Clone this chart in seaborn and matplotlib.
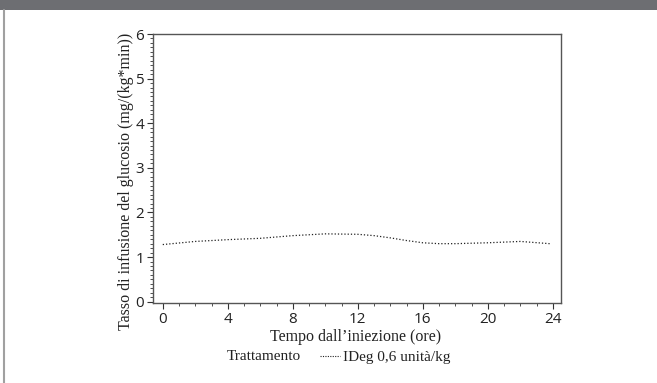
import matplotlib
matplotlib.use('Agg')
import matplotlib.pyplot as plt
import seaborn as sns
import pandas as pd
from matplotlib.ticker import MultipleLocator
from matplotlib.lines import Line2D
from matplotlib.patches import Rectangle

# dati
ore = [0, 2, 4, 6, 8, 10, 12, 13, 14, 15, 16, 17, 18, 20, 22, 23.8]
gir = [1.28, 1.35, 1.39, 1.42, 1.48, 1.52, 1.51, 1.48, 1.43, 1.37, 1.32, 1.30, 1.30, 1.32, 1.35, 1.30]
x_ticks = [0, 4, 8, 12, 16, 20, 24]
y_ticks = [0, 1, 2, 3, 4, 5, 6]

df = pd.DataFrame({'ore': ore, 'gir': gir})

sns.set_style('white')
fig = plt.figure(figsize=(6.57, 3.83), dpi=100)
ax = fig.add_axes([153 / 657, 1 - 303 / 383, (561 - 153) / 657, (303 - 34) / 383])

sns.lineplot(data=df, x='ore', y='gir', ax=ax, color='#222222', linestyle=(0, (1, 1.6)), linewidth=0.9)

ax.set_xlim(-0.6, 24.5)
ax.set_ylim(-0.03, 6)
ax.set_xticks(x_ticks)
ax.set_yticks(y_ticks)
ax.xaxis.set_minor_locator(MultipleLocator(1))
ax.yaxis.set_minor_locator(MultipleLocator(0.1))
ax.tick_params(which='major', direction='out', length=4, width=0.8, colors='#333333',
               labelsize=11, labelcolor='#222222', bottom=True, left=True, pad=2.5)
ax.tick_params(which='minor', direction='out', length=2.5, width=0.6, colors='#333333',
               bottom=True, left=True)
for lab in ax.get_xticklabels() + ax.get_yticklabels():
    lab.set_family('Open Sans')

for s in ax.spines.values():
    s.set_color('#555555')
    s.set_linewidth(1.0)

ax.set_xlabel('Tempo dall\u2019iniezione (ore)', family='Liberation Serif', fontsize=11.5,
              color='#222222')
ax.set_ylabel('Tasso di infusione del glucosio (mg/(kg*min))', family='Liberation Serif',
              fontsize=11.5, color='#222222')
ax.xaxis.set_label_coords((356 - 153) / 408, -(337 - 303) / 269)
ax.yaxis.set_label_coords(-(153 - 126) / 408, (303 - 181) / 269)
ax.xaxis.label.set_va('center')
ax.yaxis.label.set_va('center')

# legenda
fig.text(227 / 657, 1 - 357 / 383, 'Trattamento', family='Liberation Serif', fontsize=11,
         color='#222222', va='center', ha='left')
fig.add_artist(Line2D([320 / 657, 340 / 657], [1 - 356 / 383, 1 - 356 / 383],
                      color='#222222', linestyle=(0, (1, 1.2)), linewidth=0.8))
fig.text(343 / 657, 1 - 357 / 383, 'IDeg 0,6 unit\u00e0/kg', family='Liberation Serif', fontsize=11,
         color='#222222', va='center', ha='left')

# barra superiore e bordo sinistro
fig.add_artist(Rectangle((0, 1 - 10 / 383), 1, 10 / 383, transform=fig.transFigure,
                         color='#6d6e72', lw=0))
fig.add_artist(Line2D([4 / 657, 4 / 657], [0, 1 - 10 / 383], color='#a0a0a0', linewidth=1.5))

fig.savefig('out.png', dpi=100)
